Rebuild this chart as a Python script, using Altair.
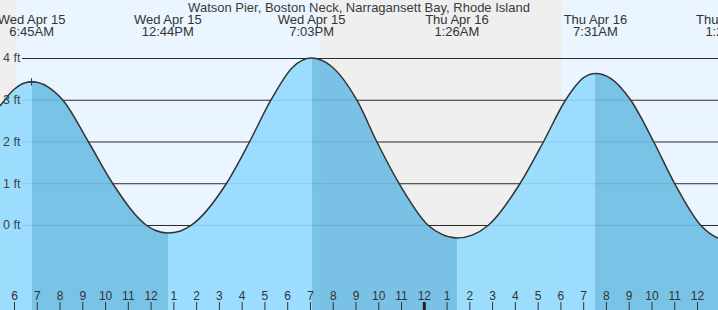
import altair as alt
import pandas as pd

# ---- data ----
# tide curve: hours since Wed Apr 15 00:00, height in ft
curve_t = [5.363, 6.0, 6.75, 7.5, 8.13, 9.25, 10.32, 11.81, 12.2, 12.73, 13.3, 13.75,
           15.3, 16.32, 17.26, 18.2, 19.05, 19.9, 21.04, 21.92, 22.9, 24.18, 24.8,
           25.43, 26.1, 26.8, 28.2, 29.23, 30.2, 31.0, 31.52, 32.2, 33.07, 34.08,
           35.0, 36.15, 36.9, 37.33]
curve_h = [2.86, 3.27, 3.44, 3.31, 3.00, 2.00, 1.00, 0.00, -0.12, -0.18, -0.13, 0.00,
           1.00, 2.00, 3.00, 3.78, 4.01, 3.82, 3.00, 2.00, 1.00, 0.00, -0.22,
           -0.30, -0.23, 0.00, 1.00, 2.00, 3.00, 3.54, 3.64, 3.52, 3.00, 2.00,
           1.00, 0.00, -0.30, -0.35]

event_t = [6.75, 12.733, 19.05, 25.433, 31.517, 37.33]
event_type = ["H", "L", "H", "L", "H", "L"]
event_day = ["Wed Apr 15", "Wed Apr 15", "Wed Apr 15", "Thu Apr 16", "Thu Apr 16", "Thu Apr 16"]
event_clock = ["6:45AM", "12:44PM", "7:03PM", "1:26AM", "7:31AM", "1:20PM"]

band_start = [5.0, 6.07, 19.43, 30.05]
band_end = [6.07, 19.43, 30.05, 38.0]
band_kind = ["night", "day", "night", "day"]

grid_ft = [0, 1, 2, 3, 4]
grid_label = ["0 ft", "1 ft", "2 ft", "3 ft", "4 ft"]

hour_t = [6, 7, 8, 9, 10, 11, 12, 13, 14, 15, 16, 17, 18, 19, 20, 21, 22, 23, 24,
          25, 26, 27, 28, 29, 30, 31, 32, 33, 34, 35, 36]
hour_label = ["6", "7", "8", "9", "10", "11", "12", "1", "2", "3", "4", "5", "6", "7",
              "8", "9", "10", "11", "12", "1", "2", "3", "4", "5", "6", "7", "8", "9",
              "10", "11", "12"]
midnight_t = [24]

now_t = [6.75]
now_h = [3.44]

title_text = ["Watson Pier, Boston Neck, Narragansett Bay, Rhode Island"]

# ---- tables ----
curve = pd.DataFrame({"t": curve_t, "h": curve_h})
events = pd.DataFrame({"t": event_t, "type": event_type, "day": event_day, "clock": event_clock})
bands = pd.DataFrame({"s": band_start, "e": band_end, "kind": band_kind})
grid = pd.DataFrame({"ft": grid_ft, "label": grid_label})
hours = pd.DataFrame({"t": hour_t, "label": hour_label})
mid = pd.DataFrame({"t": midnight_t})
now = pd.DataFrame({"t": now_t, "h": now_h})
title_df = pd.DataFrame({"text": title_text})

FONT = "Liberation Sans"
TXT = "#333333"
LIGHT = "#93DAFF"
DARK = "#6CBDE4"

Y_LO, Y_HI = -2.024, 5.401
xs = alt.Scale(domain=[5.3631, 36.900], nice=False, zero=False)
ys = alt.Scale(domain=[Y_LO, Y_HI], nice=False, zero=False)

# gradient stops: falling tide (high -> low) darker
tmin, tmax = min(curve_t), max(curve_t)
span = tmax - tmin
stops = [alt.GradientStop(offset=0, color=LIGHT)]
cur = LIGHT
for tt, ty in zip(event_t, event_type):
    off = max(0.0, min(1.0, (tt - tmin) / span))
    nxt = DARK if ty == "H" else LIGHT
    stops.append(alt.GradientStop(offset=off, color=cur))
    stops.append(alt.GradientStop(offset=off, color=nxt))
    cur = nxt
stops.append(alt.GradientStop(offset=1, color=cur))

bg = alt.Chart(bands).mark_rect(clip=True).encode(
    x=alt.X("s:Q", scale=xs, axis=None),
    x2="e:Q",
    y=alt.value(0),
    y2=alt.value(310),
    color=alt.Color("kind:N", scale=alt.Scale(domain=["night", "day"], range=["#EFEFEF", "#EBF5FF"]), legend=None),
)

grid_rules = alt.Chart(grid).mark_rule(color="#2a2a2a", strokeWidth=1).encode(
    y=alt.Y("ft:Q", scale=ys, axis=None),
    x=alt.value(22),
    x2=alt.value(718),
)

grid_text = alt.Chart(grid).mark_text(align="left", baseline="middle", font=FONT, fontSize=12.5, color=TXT, opacity=0.9).encode(
    y=alt.Y("ft:Q", scale=ys, axis=None),
    x=alt.value(3),
    text="label:N",
)

area = alt.Chart(curve).mark_area(
    interpolate="monotone", clip=True, fillOpacity=0.9,
    color=alt.Gradient(gradient="linear", stops=stops, x1=0, x2=1, y1=0, y2=0),
).encode(
    x=alt.X("t:Q", scale=xs, axis=None),
    y=alt.Y("h:Q", scale=ys, axis=None, stack=None),
    y2=alt.Y2(datum=Y_LO),
)

line = alt.Chart(curve).mark_line(interpolate="monotone", clip=True, color="#333333", strokeWidth=1.5).encode(
    x=alt.X("t:Q", scale=xs, axis=None),
    y=alt.Y("h:Q", scale=ys, axis=None),
)

marker = alt.Chart(now).mark_point(shape="M-1,0L1,0M0,-1L0,1", filled=False, size=56, strokeWidth=1, color="#333333", opacity=1).encode(
    x=alt.X("t:Q", scale=xs, axis=None),
    y=alt.Y("h:Q", scale=ys, axis=None),
)

ticks = alt.Chart(hours).mark_rule(color="#333333", strokeWidth=1).encode(
    x=alt.X("t:Q", scale=xs, axis=None),
    y=alt.value(302),
    y2=alt.value(310),
)

mid_tick = alt.Chart(mid).mark_rule(color="#222222", strokeWidth=3).encode(
    x=alt.X("t:Q", scale=xs, axis=None),
    y=alt.value(302),
    y2=alt.value(310),
)

hour_text = alt.Chart(hours).mark_text(align="center", baseline="alphabetic", font=FONT, fontSize=12, color=TXT).encode(
    x=alt.X("t:Q", scale=xs, axis=None),
    y=alt.value(300),
    text="label:N",
)

ev_day = alt.Chart(events).mark_text(align="center", baseline="alphabetic", font=FONT, fontSize=13, color=TXT, clip=True).encode(
    x=alt.X("t:Q", scale=xs, axis=None),
    y=alt.value(24),
    text="day:N",
)

ev_clock = alt.Chart(events).mark_text(align="center", baseline="alphabetic", font=FONT, fontSize=13, color=TXT, clip=True).encode(
    x=alt.X("t:Q", scale=xs, axis=None),
    y=alt.value(36),
    text="clock:N",
)

title = alt.Chart(title_df).mark_text(align="center", baseline="alphabetic", font=FONT, fontSize=13, color="#3a3a3a").encode(
    x=alt.value(359),
    y=alt.value(12),
    text="text:N",
)

chart = alt.layer(
    bg, grid_rules, area, grid_text, line, marker, ticks, mid_tick, hour_text, ev_day, ev_clock, title
).properties(
    width=718, height=310, padding=0, autosize="none", background="#EFEFEF"
).configure_view(strokeWidth=0)

chart.save("out.html", embed_options={"renderer": "svg", "actions": False})
